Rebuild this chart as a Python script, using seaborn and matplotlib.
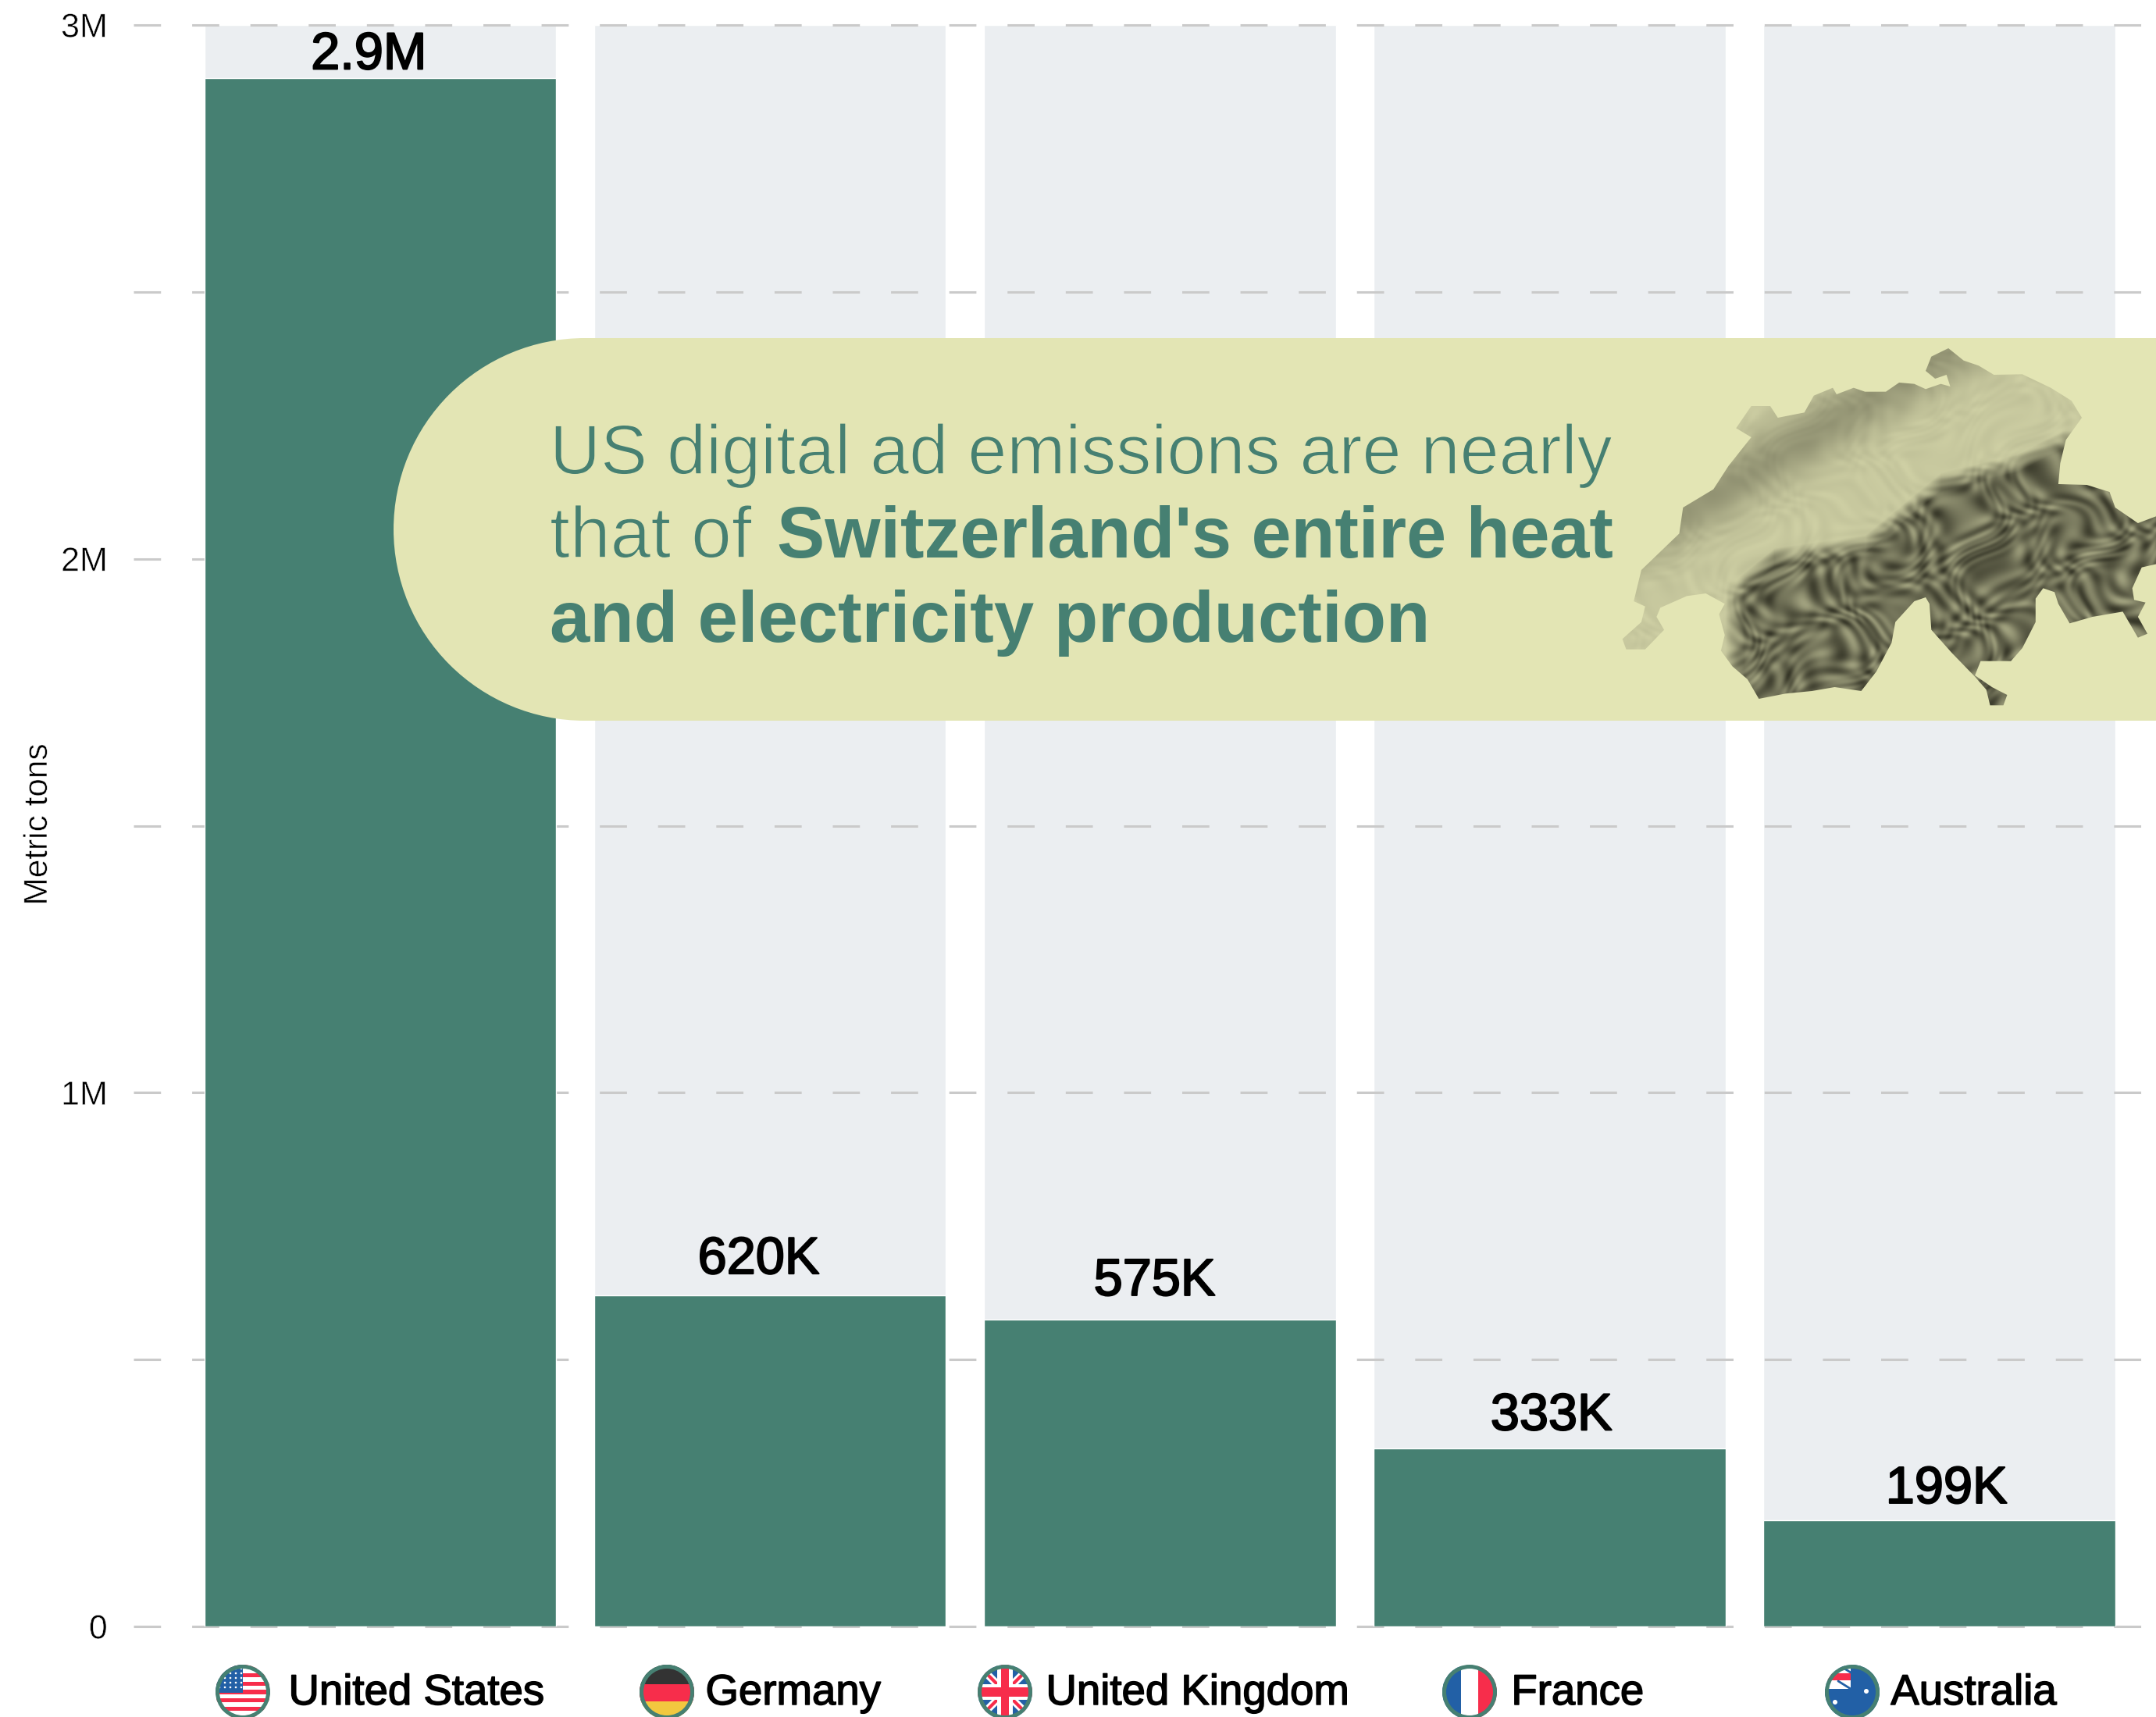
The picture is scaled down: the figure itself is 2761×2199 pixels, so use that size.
import numpy as np
import pandas as pd
import matplotlib
matplotlib.use('Agg')
import matplotlib.pyplot as plt
import matplotlib.patheffects as pe
from matplotlib.patches import Circle, Rectangle, Polygon
from matplotlib.transforms import ScaledTranslation
import seaborn as sns

#%% data

countries = ['United States', 'Germany', 'United Kingdom', 'France', 'Australia']
emissions = [2900000, 620000, 575000, 333000, 199000]
value_labels = ['2.9M', '620K', '575K', '333K', '199K']
scale_max = [3000000, 3000000, 3000000, 3000000, 3000000]
tick_values = [0, 500000, 1000000, 1500000, 2000000, 2500000, 3000000]
tick_labels = ['0', '', '1M', '', '2M', '', '3M']

GREEN = '#468072'
GREY = '#ebeef1'
BAND = '#e3e5b4'

W, H = 2761, 2199

#%% main chart

sns.set_theme(style='white')
plt.rcParams['font.family'] = ['Liberation Sans', 'DejaVu Sans']
plt.rcParams['lines.scale_dashes'] = False

fig = plt.figure(figsize=(W / 100, H / 100), dpi=100, facecolor='white')
ax = fig.add_axes([171 / W, (H - 2083) / H, (W - 171) / W, (2083 - 32) / H])

df = pd.DataFrame({'country': countries, 'emissions': emissions, 'top': scale_max})
sns.barplot(data=df, x='country', y='top', color=GREY, saturation=1, width=0.902, ax=ax)
sns.barplot(data=df, x='country', y='emissions', color=GREEN, saturation=1, width=0.902, ax=ax, zorder=3)

ax.set_xlim(-0.634, 4.556)
ax.set_ylim(0, 3000000)
ax.set_xlabel('')
ax.set_ylabel('')
sns.despine(ax=ax, left=True, bottom=True)

ax.set_axisbelow(False)
ax.set_yticks(tick_values, tick_labels)
ax.yaxis.grid(True, color='#cacaca', linewidth=2.2, linestyle=(0, (25, 28.7)))
for g in ax.yaxis.get_gridlines():
    g.set_clip_on(False)
ax.tick_params(axis='y', length=0, pad=24, labelsize=31, labelcolor='black')
for lab in ax.get_yticklabels():
    lab.set_path_effects([pe.Stroke(linewidth=0.45, foreground='white')])

# country names sit right of the flags
ax.set_xticks(range(5), countries)
ax.tick_params(axis='x', length=0, pad=72, labelsize=39.3, labelcolor='black')
name_shift = [46, 29.5, 48, 36, 44]
for lab, dx in zip(ax.get_xticklabels(), name_shift):
    lab.set_verticalalignment('baseline')
    lab.set_transform(lab.get_transform() + ScaledTranslation(dx / 100, 0, fig.dpi_scale_trans))
    lab.set_path_effects([pe.Stroke(linewidth=1.1, foreground='black')])

label_dx = [-15, -15, -7, 2, 9]
label_dy = [12, 28, 31, 24, 22]
for i in range(5):
    ax.annotate(value_labels[i], (i, emissions[i]), xytext=(label_dx[i], label_dy[i]),
                textcoords='offset pixels', ha='center', va='baseline', fontsize=48,
                color='black', zorder=5,
                path_effects=[pe.Stroke(linewidth=1.5, foreground='black')])

#%% overlay in pixel coordinates

ov = fig.add_axes([0, 0, 1, 1], facecolor='none')
ov.set_xlim(0, W)
ov.set_ylim(H, 0)
ov.axis('off')

ov.text(49, 1056, 'Metric tons', rotation=90, ha='center', va='center', fontsize=30.5, color='black',
        path_effects=[pe.Stroke(linewidth=0.45, foreground='white')])

# callout band
ov.add_patch(Circle((749, 678), 245, color=BAND, lw=0))
ov.add_patch(Rectangle((749, 433), W - 749, 490, color=BAND, lw=0))

thin = [pe.Stroke(linewidth=1.2, foreground=BAND)]
ov.text(704, 607, 'US digital ad emissions are nearly', fontsize=64.8, color=GREEN, va='baseline', path_effects=thin)
ov.text(704, 714, 'that of', fontsize=67, color=GREEN, va='baseline', path_effects=thin)
ov.text(995, 714, "Switzerland's entire heat", fontsize=66, color=GREEN, va='baseline', fontweight='bold')
ov.text(704, 822, 'and electricity production', fontsize=66.4, color=GREEN, va='baseline', fontweight='bold')

outline = np.array([
    (460, 385), (500, 300), (550, 300), (570, 345), (640, 325), (665, 260), (715, 230), (725, 255),
    (770, 230), (800, 245), (855, 245), (890, 210), (930, 215), (960, 235), (1000, 215), (1025, 225),
    (1015, 180), (985, 195), (960, 165), (975, 110), (1020, 78), (1060, 125), (1100, 145), (1140, 180),
    (1215, 178), (1290, 230), (1345, 280), (1372, 345), (1330, 430), (1315, 520), (1310, 600), (1385, 603),
    (1445, 630), (1460, 690), (1520, 750), (1575, 720), (1575, 905), (1530, 920), (1505, 1000), (1510, 1045),
    (1540, 1055), (1520, 1110), (1545, 1175), (1520, 1190), (1480, 1090), (1400, 1110), (1340, 1135),
    (1310, 1060), (1300, 1015), (1270, 1000), (1250, 1040), (1250, 1130), (1215, 1230), (1185, 1280),
    (1105, 1280), (1090, 1335), (1135, 1380), (1175, 1410), (1165, 1450), (1130, 1450), (1120, 1390),
    (1090, 1340), (1030, 1250), (975, 1160), (970, 1060), (960, 1035), (930, 1050), (880, 1130), (870, 1210),
    (830, 1320), (790, 1395), (720, 1380), (660, 1395), (590, 1405), (520, 1425), (490, 1350), (450, 1300),
    (420, 1240), (430, 1180), (415, 1100), (430, 1060), (380, 1020), (330, 1030), (260, 1075), (250, 1110),
    (270, 1160), (220, 1235), (170, 1235), (160, 1195), (210, 1130), (220, 1070), (190, 1050), (210, 930),
    (310, 790), (320, 690), (400, 620), (440, 530), (500, 420)], dtype=float)
outline_px = np.column_stack([2000 + outline[:, 0] / 2.06, 420 + outline[:, 1] / 3])

zx, zy = np.meshgrid(np.arange(150, 1580, 1.0), np.arange(70, 1460, 1.0))
edge = np.interp(zx, [150, 460, 560, 800, 1000, 1200, 1320, 1580], [1100, 1000, 880, 830, 590, 520, 430, 430])
dark = np.clip(0.5 + (zy - edge) / 70, 0, 1) * np.clip((zx - 430) / 50, 0, 1)
jura = np.exp(-0.5 * (((zx - 300) * 440 + (zy - 790) * 500) / np.hypot(440, 500) + 50) ** 2 / 70 ** 2)
# warped sines so the shading does not read as a regular weave
wx = zx + 45 * np.sin(zy * 0.013 + 1.3) + 30 * np.sin(zx * 0.021 - zy * 0.009)
wy = zy + 55 * np.sin(zx * 0.011 + 0.4) + 25 * np.sin(zx * 0.017 + zy * 0.023)
tex = (np.sin(wx * 0.047 + wy * 0.031) * np.sin(wx * 0.029 - wy * 0.053)
       + 0.55 * np.sin(wx * 0.091 - wy * 0.057 + np.sin(wy * 0.03) * 2)
       + 0.3 * np.sin(wx * 0.137 + wy * 0.089 + np.sin(wx * 0.04) * 2))
k = np.clip(0.1 + 0.56 * dark + 0.3 * jura + tex * (0.025 + 0.15 * dark), 0, 1)[..., None]
relief = (1 - k) * np.array([216, 217, 172]) / 255 + k * np.array([52, 52, 38]) / 255
im = ov.imshow(relief, extent=(2000 + 150 / 2.06, 2000 + 1580 / 2.06, 420 + 1460 / 3, 420 + 70 / 3),
               aspect='auto', interpolation='bilinear', zorder=2)
clip = Polygon(outline_px, closed=True, transform=ov.transData, facecolor='none', edgecolor='none')
ov.add_patch(clip)
im.set_clip_path(clip)
ov.set_xlim(0, W)
ov.set_ylim(H, 0)

#%% flags

R = 35
BLUE = '#2260a6'
RED = '#f72d4b'
FLAG_Y = 2167


def flag_base(cx, colour):
    c = Circle((cx, FLAG_Y), R, facecolor=colour, edgecolor='none', clip_on=False, zorder=3)
    ov.add_patch(c)
    return c


def clipped(artist, c):
    ov.add_artist(artist)
    artist.set_zorder(4)
    artist.set_clip_path(c)
    return artist


def ring(cx):
    ov.add_patch(Circle((cx, FLAG_Y), R - 2.5, facecolor='none', edgecolor=GREEN, lw=3.6, zorder=6))


# United States
c = flag_base(311, 'white')
for s in range(7):
    clipped(Rectangle((311 - R, FLAG_Y - R + s * 2 * 70 / 13), 70, 70 / 13, facecolor=RED, lw=0), c)
clipped(Rectangle((311 - R, FLAG_Y - R), 35, 36, facecolor=BLUE, lw=0), c)
for sx in range(281, 311, 7):
    for sy in range(FLAG_Y - 30, FLAG_Y, 6):
        clipped(Circle((sx, sy), 1.3, facecolor='white', lw=0), c)
ring(311)

# Germany
c = flag_base(854, '#333333')
clipped(Rectangle((854 - R, FLAG_Y - 10), 70, 24, facecolor=RED, lw=0), c)
clipped(Rectangle((854 - R, FLAG_Y + 12), 70, 24, facecolor='#f2c83f', lw=0), c)
ring(854)

# United Kingdom
c = flag_base(1287, BLUE)
for sign, col, lw in [(1, 'white', 7), (-1, 'white', 7), (1, RED, 3), (-1, RED, 3)]:
    clipped(plt.Line2D([1287 - R, 1287 + R], [FLAG_Y - sign * R, FLAG_Y + sign * R], color=col, lw=lw), c)
clipped(Rectangle((1287 - 10, FLAG_Y - R), 20, 70, facecolor='white', lw=0), c)
clipped(Rectangle((1287 - R, FLAG_Y - 10), 70, 20, facecolor='white', lw=0), c)
clipped(Rectangle((1287 - 5, FLAG_Y - R), 10, 70, facecolor=RED, lw=0), c)
clipped(Rectangle((1287 - R, FLAG_Y - 6), 70, 12, facecolor=RED, lw=0), c)
ring(1287)

# France
c = flag_base(1882, 'white')
clipped(Rectangle((1882 - R, FLAG_Y - R), 24, 70, facecolor=BLUE, lw=0), c)
clipped(Rectangle((1882 + 11, FLAG_Y - R), 24, 70, facecolor=RED, lw=0), c)
ring(1882)

# Australia
c = flag_base(2372, BLUE)
clipped(Rectangle((2372 - R, FLAG_Y - R), 33, 31, facecolor='white', lw=0), c)
clipped(Rectangle((2372 - R, FLAG_Y - 24), 33, 9, facecolor=RED, lw=0), c)
clipped(plt.Line2D([2372 - 18, 2372 - 2], [FLAG_Y - 14, FLAG_Y - 4], color=BLUE, lw=2), c)
clipped(plt.Line2D([2372 - 18, 2372 - 2], [FLAG_Y - R, FLAG_Y - 25], color=BLUE, lw=2), c)
clipped(Circle((2372 + 18, FLAG_Y - 1), 3, facecolor='white', lw=0), c)
clipped(Circle((2372 - 22, FLAG_Y + 13), 3, facecolor='white', lw=0), c)
ring(2372)

fig.savefig('out.png', dpi=100)
